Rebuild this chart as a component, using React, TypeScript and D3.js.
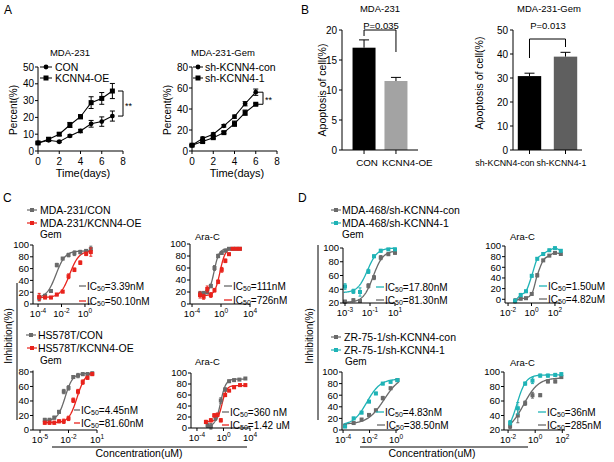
import React from 'react';
import * as d3 from 'd3';

const FONT = "'Liberation Sans', Arial, Helvetica, sans-serif";
const GRAY = '#6a6a6a';
const RED = '#e8231c';
const TEAL = '#1fb3b6';

// ---------------- Panel A data ----------------
const daysA1 = [0, 1, 2, 3, 4, 5, 6, 7];
const conA1 = [4.8, 6.4, 5.5, 9, 11.9, 16.2, 17.5, 20.8];
const conA1Err = [0.6, 0.6, 0.5, 0.6, 1, 2, 2.8, 3];
const oeA1 = [4.8, 7, 10, 15.5, 20.4, 28.8, 31.3, 35.7];
const oeA1Err = [0.6, 1, 0.8, 1.5, 1.2, 3.5, 3.5, 4.5];

const daysA2 = [0, 1, 2, 3, 4, 5, 6];
const conA2 = [5.5, 12, 16, 24, 32.7, 45, 56];
const conA2Err = [0.8, 1.2, 1.2, 1.2, 1.5, 2, 3];
const shA2 = [5.5, 9, 12.7, 17.5, 26, 36.5, 44.5];
const shA2Err = [0.8, 1, 1, 1, 2.5, 2.5, 1];

// ---------------- Panel B data ----------------
const catsB1 = ['CON', 'KCNN4-OE'];
const valsB1 = [17.05, 11.5];
const errB1 = [1.3, 0.6];
const catsB2 = ['sh-KCNN4-con', 'sh-KCNN4-1'];
const valsB2 = [30.8, 38.9];
const errB2 = [1.2, 1.8];

// ---------------- Panel C data (log10 concentration, uM) ----------------
const c1Log = [-3.9, -3.4, -2.9, -2.4, -1.9, -1.4, -0.9, -0.4, 0.1, 0.5];
const c1Con = [10, 14, 22, 66, 77, 83, 86, 88, 90, 93];
const c1ConErr = [5, 2, 2, 3, 2, 3, 4, 3, 2, 5];
const c1Oe = [12, 11, 11, 16, 21, 47, 58, 70, 85, 88];
const c1OeErr = [6, 2, 2, 2, 2, 4, 3, 3, 3, 7];
const c1ConFit = { bottom: 10, top: 90, logIC50: -2.47, hill: 1.1 };
const c1OeFit = { bottom: 11, top: 90, logIC50: -1.3, hill: 1.1 };

const c2Log = [-2.9, -2.4, -1.9, -1.4, -0.9, -0.4, 0.1, 0.6, 1.1, 1.6, 2.1, 2.6];
const c2Con = [17, 18, 20, 30, 60, 80, 85, 89, 92, 92, 92, 92];
const c2ConErr = [4, 3, 3, 3, 4, 3, 2, 2, 1, 1, 1, 1];
const c2Oe = [15, 12, 25, 15, 23, 37, 57, 72, 83, 92, 92, 92];
const c2OeErr = [5, 4, 5, 4, 3, 3, 4, 3, 2, 1, 1, 1];
const c2ConFit = { bottom: 17, top: 92, logIC50: -0.95, hill: 1.3 };
const c2OeFit = { bottom: 14, top: 93, logIC50: -0.14, hill: 1.2 };

const c3Log = [-4.5, -4, -3.5, -3, -2.5, -2, -1.5, -1, -0.5, 0, 0.5];
const c3Con = [14, 14, 17, 25, 53, 58, 73, 75, 77, 77, 78];
const c3ConErr = [2, 2, 2, 2, 3, 3, 2, 3, 2, 2, 2];
const c3Oe = [10, 10, 10, 12, 12, 16, 41, 53, 66, 72, 77];
const c3OeErr = [2, 2, 2, 2, 3, 3, 3, 3, 3, 2, 2];
const c3ConFit = { bottom: 13, top: 78, logIC50: -2.35, hill: 1.1 };
const c3OeFit = { bottom: 10, top: 80, logIC50: -1.09, hill: 1.0 };

const c4ConLog = [-2.4, -1.9, -1.2, -0.4, 0.25, 0.85, 1.6, 2.4, 3.3];
const c4Con = [5, 3, 18, 50, 70, 85, 87, 88, 90];
const c4ConErr = [4, 5, 4, 5, 3, 2, 2, 1, 1];
const c4OeLog = [-2.65, -1.9, -1.4, -0.9, -0.4, 0.25, 0.85, 1.6, 2.5, 3.3];
const c4Oe = [11, 14, 23, 24, 14, 60, 68, 74, 78, 78];
const c4OeErr = [3, 3, 3, 3, 3, 3, 2, 2, 2, 2];
const c4ConFit = { bottom: 3, top: 89, logIC50: -0.44, hill: 1.1 };
const c4OeFit = { bottom: 12, top: 77, logIC50: -0.2, hill: 1.3 };

// ---------------- Panel D data ----------------
const d1Log = [-3.0, -2.33, -1.8, -1.13, -0.68, -0.14, 0.47, 1.0];
const d1Con = [22, 24, 23, 45, 57, 86, 91, 93];
const d1ConErr = [2, 2, 2, 3, 3, 3, 2, 2];
const d1Kd = [44, 37, 36, 66, 88, 96, 98, 98];
const d1KdErr = [4, 3, 6, 3, 2, 2, 1, 1];
const d1ConFit = { bottom: 21, top: 96, logIC50: -0.75, hill: 1.1 };
const d1KdFit = { bottom: 35, top: 100, logIC50: -1.2, hill: 1.1 };

const d2Log = [-1.4, -0.92, -0.47, 0.02, 0.49, 1.0, 1.52, 2.0, 2.5];
const d2Con = [-3, 1, 2, 10, 45, 73, 82, 87, 85];
const d2ConErr = [4, 2, 2, 2, 3, 2, 2, 2, 2];
const d2Kd = [-3, 8, 15, 44, 76, 85, 92, 96, 91];
const d2KdErr = [3, 3, 2, 2, 2, 2, 2, 2, 2];

const d3Log = [-3.85, -3.2, -2.6, -2.04, -1.52, -1.0, -0.41, 0.11];
const d3Con = [7, 12, 18, 26, 34, 55, 72, 86];
const d3ConErr = [2, 2, 2, 2, 2, 3, 2, 2];
const d3Kd = [6, 20, 30, 49, 63, 80, 83, 86];
const d3KdErr = [2, 2, 2, 2, 2, 2, 2, 2];
const d3ConFit = { bottom: 10, top: 95, logIC50: -0.9, hill: 0.7 };
const d3KdFit = { bottom: 8, top: 88, logIC50: -2.2, hill: 0.85 };

const d4Log = [-1.85, -1.28, -0.74, -0.2, 0.37, 0.94, 1.48, 1.93];
const d4Con = [25, 40, 57, 68, 68, 87, 87, 93];
const d4ConErr = [3, 10, 3, 4, 2, 2, 2, 2];
const d4Kd = [30, 50, 84, 88, 95, 95, 96, 97];
const d4KdErr = [3, 8, 2, 4, 2, 2, 2, 2];
const d4ConFit = { bottom: 18, top: 92, logIC50: -0.85, hill: 0.8 };
const d4KdFit = { bottom: 15, top: 96, logIC50: -1.35, hill: 1.3 };

// ---------------- helpers ----------------
function logistic(f, lx) {
  return f.bottom + (f.top - f.bottom) / (1 + Math.pow(10, (f.logIC50 - lx) * f.hill));
}

function GrowthPanel(p) {
  const x = d3.scaleLinear().domain([0, 8]).range([p.x0, p.x1]);
  const y = d3.scaleLinear().domain([0, p.yMax]).range([p.yb, p.yt]);
  const yTicks = d3.range(0, p.yMax + 0.001, p.yStep);
  const xTicks = [0, 2, 4, 6, 8];
  const mk = (arr) => d3.line().x((_, i) => x(p.days[i])).y((d) => y(d))(arr);
  const last = p.days.length - 1;
  const ya = y(p.a[last]);
  const yb = y(p.b[last]);
  const top = Math.min(ya, yb);
  const bot = Math.max(ya, yb);
  const eb = (vals, errs, key) =>
    vals.map((v, i) => (
      <g key={key + i} stroke="#000" strokeWidth={1}>
        <line x1={x(p.days[i])} x2={x(p.days[i])} y1={y(v - errs[i])} y2={y(v + errs[i])} />
        <line x1={x(p.days[i]) - 2.5} x2={x(p.days[i]) + 2.5} y1={y(v - errs[i])} y2={y(v - errs[i])} />
        <line x1={x(p.days[i]) - 2.5} x2={x(p.days[i]) + 2.5} y1={y(v + errs[i])} y2={y(v + errs[i])} />
      </g>
    ));
  return (
    <g>
      <text x={p.titleX} y={56} fontSize={9.5} textAnchor="middle">{p.title}</text>
      <line x1={p.x0} x2={p.x1} y1={p.yb} y2={p.yb} stroke="#000" />
      <line x1={p.x0} x2={p.x0} y1={p.yb} y2={p.yt} stroke="#000" />
      {yTicks.map((t) => (
        <g key={'y' + t}>
          <line x1={p.x0 - 3} x2={p.x0} y1={y(t)} y2={y(t)} stroke="#000" />
          <text x={p.x0 - 4} y={y(t) + 3.6} fontSize={10} textAnchor="end">{t}</text>
        </g>
      ))}
      {xTicks.map((t) => (
        <g key={'x' + t}>
          <line x1={x(t)} x2={x(t)} y1={p.yb} y2={p.yb + 3} stroke="#000" />
          <text x={x(t)} y={p.yb + 14} fontSize={10} textAnchor="middle">{t}</text>
        </g>
      ))}
      <text x={p.xlabX} y={177} fontSize={11} textAnchor="middle">Time(days)</text>
      <text transform={`translate(${p.ylabX},110) rotate(-90)`} fontSize={10} textAnchor="middle">Percent(%)</text>
      <path d={mk(p.a)} fill="none" stroke="#000" strokeWidth={1.1} />
      <path d={mk(p.b)} fill="none" stroke="#000" strokeWidth={1.1} />
      {eb(p.a, p.aErr, 'ea')}
      {eb(p.b, p.bErr, 'eb')}
      {p.a.map((v, i) => <circle key={'a' + i} cx={x(p.days[i])} cy={y(v)} r={2.4} fill="#000" />)}
      {p.b.map((v, i) => <rect key={'b' + i} x={x(p.days[i]) - 2.5} y={y(v) - 2.5} width={5} height={5} fill="#000" />)}
      <line x1={p.legL[0]} x2={p.legL[1]} y1={67} y2={67} stroke="#000" />
      <circle cx={p.legM} cy={67} r={2.4} fill="#000" />
      <text x={p.legT} y={70.6} fontSize={10.5}>{p.names[0]}</text>
      <line x1={p.legL[0]} x2={p.legL[1]} y1={78} y2={78} stroke="#000" />
      <rect x={p.legM - 2.5} y={75.5} width={5} height={5} fill="#000" />
      <text x={p.legT} y={81.6} fontSize={10.5}>{p.names[1]}</text>
      <path d={`M${p.brX - 5},${top}H${p.brX}V${bot}H${p.brX - 5}`} fill="none" stroke="#000" />
      <text x={p.brX + 2} y={(top + bot) / 2 + 5} fontSize={9}>**</text>
    </g>
  );
}

function BarPanel(p) {
  const x = d3.scaleBand().domain(p.cats).range([p.x0, p.x1]).paddingInner(p.pi).paddingOuter(p.po);
  const y = d3.scaleLinear().domain([0, p.yMax]).range([150, 30]);
  const yTicks = d3.range(0, p.yMax + 0.001, p.yStep);
  const cx = (c) => x(c) + x.bandwidth() / 2;
  return (
    <g>
      <text x={p.titleX} y={12} fontSize={9.5} textAnchor="middle">{p.title}</text>
      <text x={p.pX} y={28.5} fontSize={9.5} textAnchor="middle">{p.pText}</text>
      {p.cats.map((c, i) => (
        <g key={c}>
          <rect x={x(c)} y={y(p.vals[i])} width={x.bandwidth()} height={150 - y(p.vals[i])} fill={p.colors[i]} />
          <line x1={cx(c)} x2={cx(c)} y1={y(p.vals[i])} y2={y(p.vals[i] + p.errs[i])} stroke="#000" />
          <line x1={cx(c) - 5} x2={cx(c) + 5} y1={y(p.vals[i] + p.errs[i])} y2={y(p.vals[i] + p.errs[i])} stroke="#000" />
          <line x1={cx(c)} x2={cx(c)} y1={150} y2={154} stroke="#000" />
        </g>
      ))}
      <line x1={p.x0} x2={p.x1} y1={150} y2={150} stroke="#000" />
      <line x1={p.x0} x2={p.x0} y1={150} y2={30} stroke="#000" />
      {yTicks.map((t) => (
        <g key={'t' + t}>
          <line x1={p.x0 - 3} x2={p.x0} y1={y(t)} y2={y(t)} stroke="#000" />
          <text x={p.x0 - 5} y={y(t) + 3.6} fontSize={10} textAnchor="end">{t}</text>
        </g>
      ))}
      <path
        d={`M${cx(p.cats[0])},${p.legs[0]}V${p.brY}H${cx(p.cats[1])}V${p.legs[1]}`}
        fill="none"
        stroke="#000"
      />
      {p.cats.map((c, i) => (
        <text key={'l' + c} x={cx(c) + p.labDx[i]} y={166} fontSize={p.labFs} textAnchor={p.labAnchor[i]}>{c}</text>
      ))}
      <text transform={`translate(${p.ylabX},${p.ylabY}) rotate(-90)`} fontSize={10.5} textAnchor="middle">Apoptosis of cell(%)</text>
    </g>
  );
}

function DosePanel(p) {
  const x = d3.scaleLog().domain([Math.pow(10, p.xd[0]), Math.pow(10, p.xd[1])]).range(p.xr);
  const y = d3.scaleLinear().domain(p.yd).range(p.yr);
  const fs = 9.5;
  const X = (l) => x(Math.pow(10, l));
  const fitLine = d3.line().x((d) => X(d[0])).y((d) => y(d[1]));
  const connLine = d3.line().x((d) => X(d[0])).y((d) => y(d[1])).curve(d3.curveMonotoneX);
  return (
    <g>
      {p.series.map((s, si) => {
        let path;
        if (s.fit) {
          const lo = s.logs[0] - 0.1;
          const hi = s.logs[s.logs.length - 1] + 0.1;
          const pts = d3.range(0, 121).map((k) => {
            const lx = lo + ((hi - lo) * k) / 120;
            return [lx, logistic(s.fit, lx)];
          });
          path = fitLine(pts);
        } else {
          path = connLine(s.logs.map((l, j) => [l, s.vals[j]]));
        }
        return <path key={'f' + si} d={path} fill="none" stroke={s.color} strokeWidth={1.3} />;
      })}
      {p.series.map((s, si) => (
        <g key={'s' + si}>
          {s.vals.map((v, j) => (
            <g key={j}>
              <line x1={X(s.logs[j])} x2={X(s.logs[j])} y1={y(v - s.errs[j])} y2={y(v + s.errs[j])} stroke={s.color} strokeWidth={1} />
              <line x1={X(s.logs[j]) - 1.5} x2={X(s.logs[j]) + 1.5} y1={y(v - s.errs[j])} y2={y(v - s.errs[j])} stroke={s.color} />
              <line x1={X(s.logs[j]) - 1.5} x2={X(s.logs[j]) + 1.5} y1={y(v + s.errs[j])} y2={y(v + s.errs[j])} stroke={s.color} />
              <rect x={X(s.logs[j]) - 2} y={y(v) - 2} width={4} height={4} fill={s.color} />
            </g>
          ))}
        </g>
      ))}
      <line x1={p.xr[0]} x2={p.xr[1]} y1={p.yr[0]} y2={p.yr[0]} stroke="#000" />
      <line x1={p.xr[0]} x2={p.xr[0]} y1={p.yr[0]} y2={p.yr[1]} stroke="#000" />
      {p.yTicks.map((t) => (
        <g key={'y' + t}>
          <line x1={p.xr[0] - 3} x2={p.xr[0]} y1={y(t)} y2={y(t)} stroke="#000" />
          <text x={p.xr[0] - 4} y={y(t) + 3.4} fontSize={fs} textAnchor="end">{t}</text>
        </g>
      ))}
      {p.xExps.map((e) => (
        <g key={'x' + e}>
          <line x1={X(e)} x2={X(e)} y1={p.yr[0]} y2={p.yr[0] + 3} stroke="#000" />
          <text x={X(e)} y={p.yr[0] + 13} fontSize={fs} textAnchor="middle">
            10<tspan dy={-4} fontSize={6.5}>{e}</tspan>
          </text>
        </g>
      ))}
    </g>
  );
}

function ICLabel({ x0, x1, tx, y, color, val }) {
  return (
    <g>
      <line x1={x0} x2={x1} y1={y} y2={y} stroke={color} strokeWidth={1.3} />
      <text x={tx} y={y + 3.6} fontSize={10}>
        IC<tspan fontSize={7} dy={1}>50</tspan>
        <tspan dy={-1}>={val}</tspan>
      </text>
    </g>
  );
}

function LegendItem({ mx, tx, y, color, text }) {
  return (
    <g>
      <line x1={mx - 5} x2={mx + 5} y1={y} y2={y} stroke={color} strokeWidth={1.2} />
      <rect x={mx - 2} y={y - 2} width={4} height={4} fill={color} />
      <text x={tx} y={y + 3.7} fontSize={10.5}>{text}</text>
    </g>
  );
}

export default function App() {
  return (
    <svg
      width={614}
      height={462}
      viewBox="0 0 614 462"
      style={{ position: 'absolute', left: 0, top: 0, background: '#fff', fontFamily: FONT }}
    >
      <rect width={614} height={462} fill="#fff" />
      <text x={4} y={14} fontSize={12}>A</text>
      <text x={301} y={14} fontSize={12}>B</text>
      <text x={3} y={202} fontSize={12}>C</text>
      <text x={298} y={202} fontSize={12}>D</text>

      {/* ---------- A ---------- */}
      <GrowthPanel
        x0={38} x1={123} yb={151} yt={67} yMax={50} yStep={10}
        days={daysA1} a={conA1} aErr={conA1Err} b={oeA1} bErr={oeA1Err}
        title="MDA-231" titleX={70} names={['CON', 'KCNN4-OE']}
        legL={[40, 52]} legM={46} legT={55} brX={123} xlabX={83} ylabX={17}
      />
      <GrowthPanel
        x0={192} x1={277} yb={151} yt={67} yMax={80} yStep={20}
        days={daysA2} a={conA2} aErr={conA2Err} b={shA2} bErr={shA2Err}
        title="MDA-231-Gem" titleX={223} names={['sh-KCNN4-con', 'sh-KCNN4-1']}
        legL={[193, 203]} legM={198} legT={205} brX={263} xlabX={237} ylabX={171}
      />

      {/* ---------- B ---------- */}
      <BarPanel
        cats={catsB1} vals={valsB1} errs={errB1} colors={['#000', '#a3a3a3']}
        x0={342} x1={418} pi={0.28} po={0.33} yMax={20} yStep={5}
        title="MDA-231" titleX={380} pText="P=0.035" pX={381} brY={30} legs={[36, 52]}
        labDx={[3, -14]} labAnchor={['middle', 'start']} labFs={9.8} ylabX={326} ylabY={90}
      />
      <BarPanel
        cats={catsB2} vals={valsB2} errs={errB2} colors={['#000', '#5f5f5f']}
        x0={513} x1={582} pi={0.35} po={0.133} yMax={50} yStep={10}
        title="MDA-231-Gem" titleX={549} pText="P=0.013" pX={548} brY={39} legs={[58, 47]}
        labDx={[5, -29]} labAnchor={['end', 'start']} labFs={8.8} ylabX={483} ylabY={83}
      />

      {/* ---------- C ---------- */}
      <LegendItem mx={32} tx={40} y={210} color={GRAY} text="MDA-231/CON" />
      <LegendItem mx={32} tx={40} y={223} color={RED} text="MDA-231/KCNN4-OE" />
      <text x={40} y={238} fontSize={10}>Gem</text>
      <DosePanel
        xr={[33, 92]} yr={[304, 245]} xd={[-4.43, 0.6]} yd={[0, 100]}
        yTicks={[0, 20, 40, 60, 80, 100]} xExps={[-4, -2, 0]}
        series={[
          { logs: c1Log, vals: c1Con, errs: c1ConErr, color: GRAY, fit: c1ConFit },
          { logs: c1Log, vals: c1Oe, errs: c1OeErr, color: RED, fit: c1OeFit },
        ]}
      />
      <ICLabel x0={79} x1={86} tx={87} y={286} color={GRAY} val="3.39nM" />
      <ICLabel x0={79} x1={86} tx={87} y={301} color={RED} val="50.10nM" />

      <text x={195} y={240} fontSize={9.5}>Ara-C</text>
      <DosePanel
        xr={[190, 250]} yr={[304, 244]} xd={[-4.28, 4]} yd={[0, 100]}
        yTicks={[0, 20, 40, 60, 80, 100]} xExps={[-4, 0, 4]}
        series={[
          { logs: c2Log, vals: c2Con, errs: c2ConErr, color: GRAY, fit: c2ConFit },
          { logs: c2Log, vals: c2Oe, errs: c2OeErr, color: RED, fit: c2OeFit },
        ]}
      />
      <ICLabel x0={224} x1={232} tx={233} y={286} color={GRAY} val="111nM" />
      <ICLabel x0={224} x1={232} tx={233} y={300} color={RED} val="726nM" />

      <LegendItem mx={31} tx={38} y={335} color={GRAY} text="HS578T/CON" />
      <LegendItem mx={32} tx={38} y={348} color={RED} text="HS578T/KCNN4-OE" />
      <text x={40} y={364} fontSize={10}>Gem</text>
      <DosePanel
        xr={[33, 97]} yr={[430, 370.5]} xd={[-5.74, 1]} yd={[0, 82]}
        yTicks={[0, 20, 40, 60, 80]} xExps={[-5, -2, 1]}
        series={[
          { logs: c3Log, vals: c3Con, errs: c3ConErr, color: GRAY, fit: c3ConFit },
          { logs: c3Log, vals: c3Oe, errs: c3OeErr, color: RED, fit: c3OeFit },
        ]}
      />
      <ICLabel x0={74} x1={80} tx={81} y={410} color={GRAY} val="4.45nM" />
      <ICLabel x0={74} x1={80} tx={81} y={423} color={RED} val="81.60nM" />

      <text x={195} y={365} fontSize={9.5}>Ara-C</text>
      <DosePanel
        xr={[191, 250]} yr={[428, 373]} xd={[-4.9, 4]} yd={[0, 100]}
        yTicks={[0, 20, 40, 60, 80, 100]} xExps={[-4, 0, 4]}
        series={[
          { logs: c4ConLog, vals: c4Con, errs: c4ConErr, color: GRAY, fit: c4ConFit },
          { logs: c4OeLog, vals: c4Oe, errs: c4OeErr, color: RED, fit: c4OeFit },
        ]}
      />
      <ICLabel x0={222} x1={229} tx={230} y={412} color={GRAY} val="360 nM" />
      <ICLabel x0={222} x1={229} tx={230} y={425} color={RED} val="1.42 uM" />

      <line x1={17} x2={17} y1={283} y2={420} stroke="#000" />
      <text transform="translate(12,336) rotate(-90)" fontSize={10} textAnchor="middle">Inhibition(%)</text>
      <line x1={52} x2={247} y1={447} y2={447} stroke="#000" />
      <text x={139} y={457} fontSize={10.5} textAnchor="middle">Concentration(uM)</text>

      {/* ---------- D ---------- */}
      <LegendItem mx={336} tx={342} y={210} color={GRAY} text="MDA-468/sh-KCNN4-con" />
      <LegendItem mx={336} tx={342} y={223} color={TEAL} text="MDA-468/sh-KCNN4-1" />
      <text x={342} y={238} fontSize={10}>Gem</text>
      <DosePanel
        xr={[343, 395]} yr={[303, 248]} xd={[-3.16, 1.0]} yd={[20, 100]}
        yTicks={[20, 40, 60, 80, 100]} xExps={[-3, -1, 1]}
        series={[
          { logs: d1Log, vals: d1Con, errs: d1ConErr, color: GRAY, fit: d1ConFit },
          { logs: d1Log, vals: d1Kd, errs: d1KdErr, color: TEAL, fit: d1KdFit },
        ]}
      />
      <ICLabel x0={376} x1={384} tx={385} y={287} color={TEAL} val="17.80nM" />
      <ICLabel x0={376} x1={384} tx={385} y={300} color={GRAY} val="81.30nM" />

      <text x={510} y={240} fontSize={9.5}>Ara-C</text>
      <DosePanel
        xr={[505, 560]} yr={[303, 246]} xd={[-2.26, 2.43]} yd={[-7, 100]}
        yTicks={[0, 20, 40, 60, 80, 100]} xExps={[-2, 0, 2]}
        series={[
          { logs: d2Log, vals: d2Con, errs: d2ConErr, color: GRAY },
          { logs: d2Log, vals: d2Kd, errs: d2KdErr, color: TEAL },
        ]}
      />
      <ICLabel x0={539} x1={547} tx={548} y={286} color={TEAL} val="1.50uM" />
      <ICLabel x0={539} x1={547} tx={548} y={299} color={GRAY} val="4.82uM" />

      <LegendItem mx={336} tx={344} y={337} color={GRAY} text="ZR-75-1/sh-KCNN4-con" />
      <LegendItem mx={336} tx={344} y={350} color={TEAL} text="ZR-75-1/sh-KCNN4-1" />
      <text x={345} y={365} fontSize={10}>Gem</text>
      <DosePanel
        xr={[342, 398]} yr={[430, 372]} xd={[-4.08, 0.15]} yd={[0, 100]}
        yTicks={[0, 20, 40, 60, 80, 100]} xExps={[-4, -2, 0]}
        series={[
          { logs: d3Log, vals: d3Con, errs: d3ConErr, color: GRAY, fit: d3ConFit },
          { logs: d3Log, vals: d3Kd, errs: d3KdErr, color: TEAL, fit: d3KdFit },
        ]}
      />
      <ICLabel x0={376} x1={384} tx={385} y={412} color={TEAL} val="4.83nM" />
      <ICLabel x0={377} x1={385} tx={386} y={425} color={GRAY} val="38.50nM" />

      <text x={510} y={366} fontSize={9.5}>Ara-C</text>
      <DosePanel
        xr={[504, 565]} yr={[430, 372]} xd={[-2.3, 2.2]} yd={[20, 100]}
        yTicks={[20, 40, 60, 80, 100]} xExps={[-2, 0, 2]}
        series={[
          { logs: d4Log, vals: d4Con, errs: d4ConErr, color: GRAY, fit: d4ConFit },
          { logs: d4Log, vals: d4Kd, errs: d4KdErr, color: TEAL, fit: d4KdFit },
        ]}
      />
      <ICLabel x0={538} x1={546} tx={547} y={412} color={TEAL} val="36nM" />
      <ICLabel x0={538} x1={546} tx={547} y={425} color={GRAY} val="285nM" />

      <line x1={318} x2={318} y1={245} y2={420} stroke="#000" />
      <text transform="translate(313,336) rotate(-90)" fontSize={10} textAnchor="middle">Inhibition(%)</text>
      <line x1={360} x2={528} y1={447} y2={447} stroke="#000" />
      <text x={432} y={457} fontSize={10.5} textAnchor="middle">Concentration(uM)</text>
    </svg>
  );
}
